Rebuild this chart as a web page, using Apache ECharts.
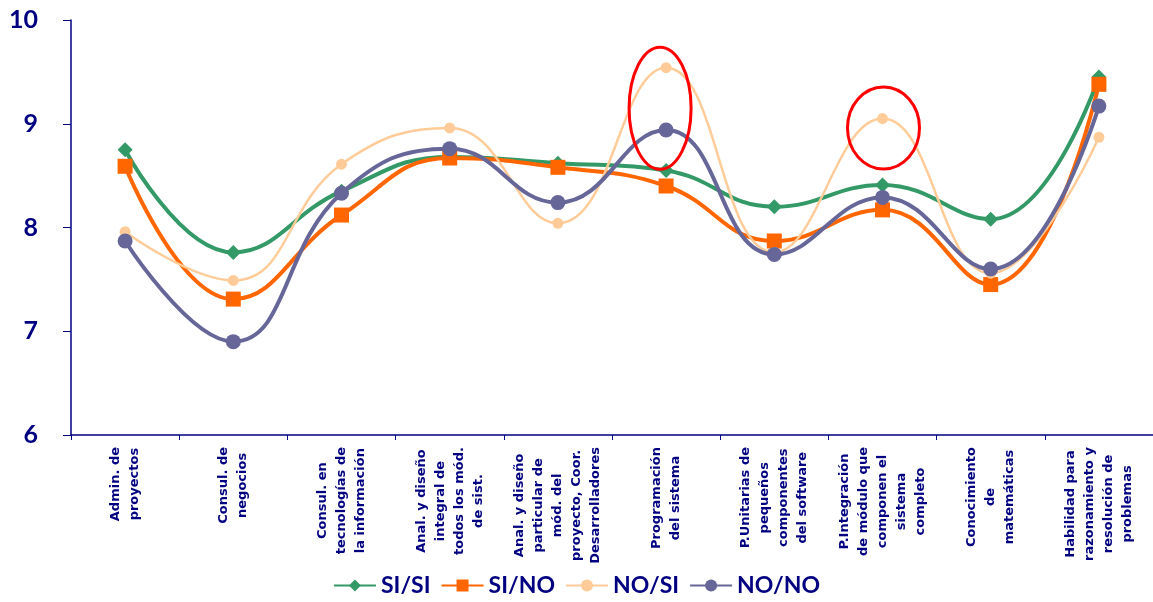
<!DOCTYPE html>
<html>
<head>
<meta charset="utf-8">
<script src="https://cdn.jsdelivr.net/npm/echarts@6/dist/echarts.min.js"></script>
<style>
html,body{margin:0;padding:0;background:#fff;}
#main{width:1153px;height:602px;}
</style>
</head>
<body>
<div id="main"></div>
<script>
const categories = [
  "Admin. de\nproyectos",
  "Consul. de\nnegocios",
  "Consul. en\ntecnologías de\nla información",
  "Anal. y diseño\nintegral de\ntodos los mód.\nde sist.",
  "Anal. y diseño\nparticular de\nmód. del\nproyecto, Coor.\nDesarrolladores",
  "Programación\ndel sistema",
  "P.Unitarias de\npequeños\ncomponentes\ndel software",
  "P.Integración\nde módulo que\ncomponen el\nsistema\ncompleto",
  "Conocimiento\nde\nmatemáticas",
  "Habilidad para\nrazonamiento y\nresolución de\nproblemas"
];
const siSi = [8.75, 7.76, 8.35, 8.68, 8.62, 8.55, 8.20, 8.41, 8.08, 9.45];
const siNo = [8.59, 7.31, 8.12, 8.67, 8.58, 8.40, 7.87, 8.17, 7.45, 9.38];
const noSi = [7.96, 7.49, 8.61, 8.96, 8.04, 9.54, 7.76, 9.05, 7.56, 8.87];
const noNo = [7.87, 6.90, 8.33, 8.76, 8.24, 8.94, 7.74, 8.29, 7.60, 9.17];
const yTicks = [6, 7, 8, 9, 10];

const navy = '#000080';
const chart = echarts.init(document.getElementById('main'));
const font = 'Lato, "DejaVu Sans", sans-serif';
const labelFont = '"DejaVu Sans", sans-serif';

function mk(name, data, color, symbol, size, width) {
  return {
    name: name, type: 'line', data: data, smooth: 0.45,
    symbol: symbol, symbolSize: size,
    lineStyle: {color: color, width: width},
    itemStyle: {color: color},
    emphasis: {disabled: true}
  };
}

chart.setOption({
  animation: false,
  grid: {left: 71, right: 0, top: 20, bottom: 167, containLabel: false},
  legend: {
    bottom: 0, left: 'center', itemWidth: 42, itemHeight: 15, itemGap: 10,
    textStyle: {color: navy, fontSize: 23, fontWeight: 'bold', fontFamily: font},
    data: ['SI/SI', 'SI/NO', 'NO/SI', 'NO/NO']
  },
  xAxis: {
    type: 'category', data: categories, boundaryGap: true,
    axisLine: {lineStyle: {color: navy, width: 1.5}},
    axisTick: {show: true, length: 5, lineStyle: {color: navy}},
    axisLabel: {
      interval: 0, rotate: 90, margin: 12,
      formatter: function (v) { return v.split('\n').map(function (l) { return '{c|' + l + '}'; }).join('\n'); },
      rich: {c: {align: 'center', color: navy, fontSize: 13, fontWeight: 'bold', fontFamily: labelFont, lineHeight: 19}}
    }
  },
  yAxis: {
    type: 'value', min: yTicks[0], max: yTicks[yTicks.length - 1], interval: 1,
    splitLine: {show: false},
    axisLine: {show: true, lineStyle: {color: navy, width: 1.5}},
    axisTick: {show: true, length: 8, lineStyle: {color: navy}},
    axisLabel: {color: navy, fontSize: 25, fontWeight: 'bold', fontFamily: font, margin: 33}
  },
  series: [
    mk('SI/SI', siSi, '#339966', 'diamond', 15, 4),
    mk('SI/NO', siNo, '#FF6600', 'rect', 15, 4),
    mk('NO/SI', noSi, '#FFCC99', 'circle', 11, 2.5),
    mk('NO/NO', noNo, '#666699', 'circle', 15, 4)
  ]
});

const e1 = chart.convertToPixel({seriesIndex: 0}, [5, 9.15]);
const e2 = chart.convertToPixel({seriesIndex: 0}, [7, 8.96]);
chart.setOption({
  graphic: [
    {type: 'ellipse', shape: {cx: e1[0] - 6, cy: e1[1], rx: 31, ry: 61}, style: {fill: null, stroke: '#FF0000', lineWidth: 3}, z: 100},
    {type: 'ellipse', shape: {cx: e2[0] + 1, cy: e2[1], rx: 36, ry: 41}, style: {fill: null, stroke: '#FF0000', lineWidth: 3}, z: 100}
  ]
});
</script>
</body>
</html>
